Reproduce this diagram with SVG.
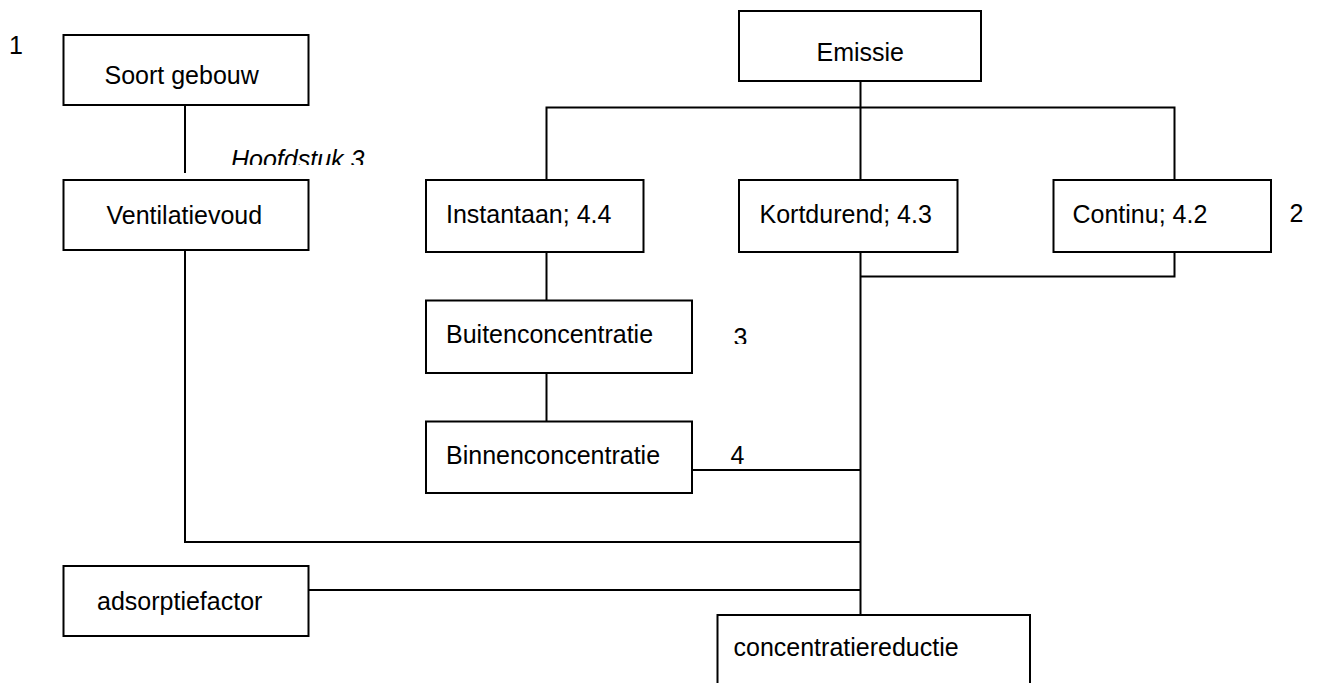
<svg xmlns="http://www.w3.org/2000/svg" width="1317" height="683" viewBox="0 0 1317 683">
<style>
.box{fill:#fff;stroke:#000;stroke-width:2}
.ln{fill:none;stroke:#000;stroke-width:2}
text{font-family:"Liberation Sans",Arial,sans-serif;font-size:25px;fill:#000}
.it{font-style:italic}
</style>
<defs>
<clipPath id="clipH"><rect x="220" y="140" width="170" height="25"/></clipPath>
<clipPath id="clip3"><rect x="725" y="320" width="40" height="24"/></clipPath>
</defs>
<rect width="1317" height="683" fill="#fff"/>
<g id="connectors">
<path class="ln" d="M185 105 V173"/>
<path class="ln" d="M860.5 81 V180"/>
<path class="ln" d="M546.5 180 V107.5 H1174.5 V180"/>
<path class="ln" d="M860.5 252 V615"/>
<path class="ln" d="M1174.5 252 V276.5 H860.5"/>
<path class="ln" d="M546.5 252 V300.5"/>
<path class="ln" d="M546.5 373 V421.5"/>
<path class="ln" d="M692 470 H860.5"/>
<path class="ln" d="M185 250 V542 H860.5"/>
<path class="ln" d="M308 590 H860.5"/>
</g>
<g id="label-1"><text x="9" y="54">1</text></g>
<g id="label-2"><text x="1289.5" y="222">2</text></g>
<g id="label-3" clip-path="url(#clip3)"><text x="733.5" y="345.5">3</text></g>
<g id="label-4"><text x="730.5" y="464">4</text></g>
<g id="label-hoofdstuk" clip-path="url(#clipH)"><text class="it" x="231" y="168">Hoofdstuk 3</text></g>
<g id="soort-gebouw"><rect class="box" x="63.5" y="35" width="245" height="70"/><text x="104.5" y="84">Soort gebouw</text></g>
<g id="ventilatievoud"><rect class="box" x="63.5" y="180" width="245" height="70"/><text x="106.5" y="224">Ventilatievoud</text></g>
<g id="emissie"><rect class="box" x="739" y="11" width="242" height="70"/><text x="816.5" y="61">Emissie</text></g>
<g id="instantaan"><rect class="box" x="426" y="180" width="217.5" height="72"/><text x="446" y="223">Instantaan; 4.4</text></g>
<g id="kortdurend"><rect class="box" x="739" y="180" width="218.5" height="72"/><text x="759.5" y="223">Kortdurend; 4.3</text></g>
<g id="continu"><rect class="box" x="1053.5" y="180" width="217.5" height="72"/><text x="1072.5" y="223">Continu; 4.2</text></g>
<g id="buitenconcentratie"><rect class="box" x="426" y="300.5" width="266" height="72.5"/><text x="446" y="343">Buitenconcentratie</text></g>
<g id="binnenconcentratie"><rect class="box" x="426" y="421.5" width="266" height="71.5"/><text x="446" y="463.5">Binnenconcentratie</text></g>
<g id="adsorptiefactor"><rect class="box" x="63.5" y="566" width="245" height="70"/><text x="97" y="610">adsorptiefactor</text></g>
<g id="concentratiereductie"><rect class="box" x="717.5" y="615" width="312.5" height="90"/><text x="733.5" y="656">concentratiereductie</text></g>
</svg>
